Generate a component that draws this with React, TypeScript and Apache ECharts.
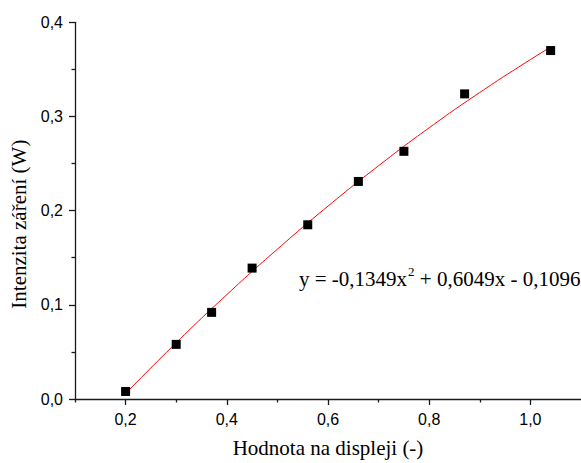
import React, { useEffect, useRef } from "react";
import * as echarts from "echarts";

// measured points
const dataX = [0.2, 0.3, 0.37, 0.45, 0.56, 0.66, 0.75, 0.87, 1.04];
const dataY = [0.008, 0.058, 0.092, 0.139, 0.185, 0.231, 0.263, 0.324, 0.37];

// fitted curve
const fitX = [0.2, 0.3, 0.4, 0.5, 0.6, 0.7, 0.8, 0.9, 1.0, 1.04];
const fitY = [0.0058, 0.0597, 0.1108, 0.1591, 0.2048, 0.2477, 0.288, 0.3255, 0.3604, 0.3736];

// tick labels
const xMajorTicks = [0.2, 0.4, 0.6, 0.8, 1.0];
const xMinorTicks = [0.1, 0.3, 0.5, 0.7, 0.9];
const yTicks = [0, 0.1, 0.2, 0.3, 0.4];

const xName = "Hodnota na displeji (-)";
const yName = "Intenzita záření (W)";
const eqMain1 = "y = -0,1349x";
const eqSup = "2";
const eqMain2 = " + 0,6049x - 0,1096";

const SERIF = "'Liberation Serif', 'Times New Roman', serif";
const SANS = "'Liberation Sans', Arial, sans-serif";

const fmt = (v: number) => v.toFixed(1).replace(".", ",");

export default function App() {
  const ref = useRef<HTMLDivElement>(null);
  useEffect(() => {
    if (!ref.current) return;
    const chart = echarts.init(ref.current, undefined, { renderer: "svg" });
    const axisLine = { show: true, lineStyle: { color: "#1a1a1a", width: 1.3 } };
    chart.setOption({
      animation: false,
      backgroundColor: "#ffffff",
      grid: { left: 75, top: 22.3, bottom: 62, right: -4.4, containLabel: false },
      xAxis: [
        {
          type: "value",
          min: 0.1,
          max: 1.1,
          position: "bottom",
          name: xName,
          nameLocation: "middle",
          nameGap: 38,
          nameTextStyle: { fontFamily: SERIF, fontSize: 21, color: "#000" },
          axisLine,
          axisTick: { show: true, length: 6, customValues: xMajorTicks, lineStyle: { color: "#1a1a1a", width: 1.3 } },
          axisLabel: {
            customValues: xMajorTicks,
            formatter: (v: number) => fmt(v),
            fontFamily: SANS,
            fontSize: 16,
            color: "#000",
            margin: 12,
          },
          splitLine: { show: false },
        },
        {
          type: "value",
          min: 0.1,
          max: 1.1,
          position: "bottom",
          axisLine: { show: false },
          axisTick: { show: true, length: 3.5, customValues: xMinorTicks, lineStyle: { color: "#1a1a1a", width: 1.3 } },
          axisLabel: { show: false },
          splitLine: { show: false },
        },
      ],
      yAxis: {
        type: "value",
        min: 0,
        max: 0.4,
        interval: 0.1,
        name: yName,
        nameLocation: "middle",
        nameGap: 44,
        nameTextStyle: { fontFamily: SERIF, fontSize: 21, color: "#000", padding: [0, 27, 0, 0] },
        axisLine,
        axisTick: { show: true, length: 6, lineStyle: { color: "#1a1a1a", width: 1.3 } },
        minorTick: { show: true, splitNumber: 2, length: 3.5, lineStyle: { color: "#1a1a1a", width: 1.3 } },
        axisLabel: {
          customValues: yTicks,
          formatter: (v: number) => fmt(v),
          fontFamily: SANS,
          fontSize: 16,
          color: "#000",
          margin: 12,
        },
        splitLine: { show: false },
      },
      series: [
        {
          type: "line",
          xAxisIndex: 0,
          data: fitX.map((x, i) => [x, fitY[i]]),
          smooth: true,
          showSymbol: false,
          lineStyle: { color: "#ff0000", width: 1 },
          z: 2,
        },
        {
          type: "scatter",
          xAxisIndex: 0,
          data: dataX.map((x, i) => [x, dataY[i]]),
          symbol: "rect",
          symbolSize: 9,
          itemStyle: { color: "#000", opacity: 1 },
          z: 3,
        },
      ],
      graphic: [
        {
          type: "text",
          left: 299,
          top: 265,
          style: {
            text: `{n|${eqMain1}}{s|${eqSup}}{n|${eqMain2}}`,
            fill: "#000",
            rich: {
              n: { fontFamily: SERIF, fontSize: 21, lineHeight: 24, verticalAlign: "bottom" },
              s: { fontFamily: SERIF, fontSize: 13, lineHeight: 13, verticalAlign: "top", padding: [0, 0, 0, 1] },
            },
          },
        },
      ],
    });
    return () => chart.dispose();
  }, []);
  return (
    <div
      ref={ref}
      style={{ position: "fixed", left: 0, top: 0, width: 581, height: 463, background: "#fff" }}
    />
  );
}
